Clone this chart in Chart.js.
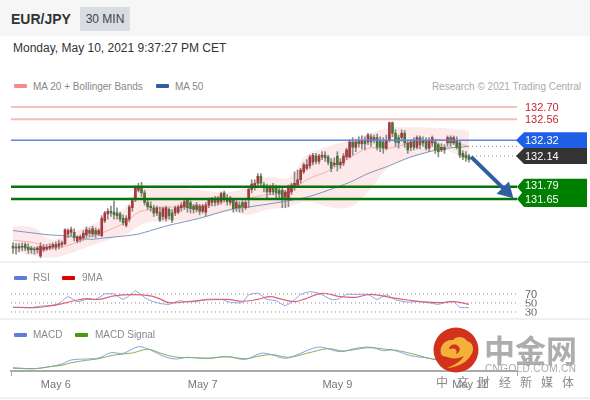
<!DOCTYPE html>
<html lang="en">

<head>
  <meta charset="UTF-8">
  <title>EUR/JPY 30 MIN</title>
  <script src="https://cdn.jsdelivr.net/npm/chart.js"></script>
  <style>
    body {
      margin: 0;
      font-family: 'Liberation Sans', Arial, sans-serif;
      background: #fff;
    }

    #page {
      position: relative;
      width: 590px;
      height: 400px;
      overflow: hidden;
      background: #fff;
    }

    #page>* {
      position: absolute;
    }

    canvas {
      left: 0;
    }

    .header {
      left: 0;
      top: 0;
      width: 590px;
      height: 36px;
      background: #f6f6f6;
    }

    .pair {
      left: 11px;
      top: 11px;
      font-size: 14px;
      font-weight: bold;
      color: #333;
    }

    .badge {
      left: 80px;
      top: 7px;
      width: 50px;
      height: 24px;
      line-height: 24px;
      text-align: center;
      background: #d9dce3;
      font-size: 12px;
      color: #444;
    }

    .date {
      left: 13px;
      top: 41px;
      font-size: 12px;
      color: #333;
    }

    .legend {
      font-size: 10px;
      color: #888;
      white-space: nowrap;
    }

    .swatch {
      width: 13px;
      height: 4px;
      border-radius: 1px;
    }

    .rule {
      left: 0;
      width: 590px;
      height: 2px;
      background: #f0f0f0;
    }

    .mark {
      left: 484px;
      top: 326px;
      font-family: 'Noto Sans CJK SC', sans-serif;
      font-weight: 700;
      font-size: 31px;
      letter-spacing: 0;
      color: #adadad;
      white-space: nowrap;
    }

    .mark-en {
      left: 485px;
      top: 363px;
      font-size: 10px;
      letter-spacing: 0.4px;
      color: #a8a8a8;
      white-space: nowrap;
    }

    .mark-cn {
      left: 436px;
      top: 373px;
      font-family: 'Noto Sans CJK SC', sans-serif;
      font-size: 12px;
      letter-spacing: 9px;
      color: #8a8a8a;
      white-space: nowrap;
    }
  </style>
</head>

<body>
  <div id="page">
    <div class="header"></div>
    <div class="pair">EUR/JPY</div>
    <div class="badge">30 MIN</div>
    <div class="date">Monday, May 10, 2021 9:37:27 PM CET</div>

    <div class="swatch" style="left:14px;top:84px;background:#f58a8a"></div>
    <div class="legend" style="left:33px;top:81px">MA 20 + Bollinger Bands</div>
    <div class="swatch" style="left:156px;top:84px;background:#2f5f9e"></div>
    <div class="legend" style="left:175px;top:81px">MA 50</div>
    <div class="legend" style="right:9px;top:81px;color:#aaa">Research © 2021 Trading Central</div>

    <canvas id="priceChart" width="590" height="192" style="top:70px"></canvas>
    <div class="rule" style="top:261px"></div>
    <canvas id="rsiChart" width="590" height="57" style="top:262px"></canvas>
    <div class="rule" style="top:318px"></div>
    <canvas id="macdChart" width="590" height="78" style="top:319px"></canvas>
    <div class="rule" style="top:397px"></div>

    <div class="swatch" style="left:14px;top:276px;background:#5b7fd6"></div>
    <div class="legend" style="left:33px;top:272px">RSI</div>
    <div class="swatch" style="left:62px;top:276px;background:#e00000"></div>
    <div class="legend" style="left:82px;top:272px">9MA</div>
    <div class="swatch" style="left:14px;top:333px;background:#5b7fd6"></div>
    <div class="legend" style="left:33px;top:329px">MACD</div>
    <div class="swatch" style="left:75px;top:333px;background:#4a9a10"></div>
    <div class="legend" style="left:95px;top:329px">MACD Signal</div>

    <svg style="left:433px;top:327px" width="46" height="46" viewBox="0 0 46 46">
      <circle cx="23" cy="23" r="22.5" fill="#d2321c" />
      <path d="M8 27c-2-8 4-15 12-14 3-4 11-4 14 1 6 1 8 9 4 14-4 7-12 12-24 13 8-3 14-7 17-12-5 3-12 3-17 1-3-1-5-1-6-3z" fill="#f4b13a" />
      <path d="M16 22c0-4 6-6 9-3 3 2 2 7-2 8 1-2 1-4-1-5-2-1-4 0-6 0z" fill="#d2321c" />
    </svg>
    <div class="mark">中金网</div>
    <div class="mark-en">CNGOLD.COM.CN</div>
    <div class="mark-cn">中文财经新媒体</div>
  </div>

  <script>
    // candles
    const opens = [
      131.11, 131.10, 131.11, 131.10, 131.13, 131.10, 131.09, 131.08, 131.07, 131.00,
      131.07, 131.08, 131.09, 131.10, 131.10, 131.11, 131.13, 131.14, 131.25, 131.27,
      131.27, 131.17, 131.19, 131.21, 131.24, 131.29, 131.25, 131.29, 131.25, 131.23,
      131.40, 131.48, 131.51, 131.50, 131.49, 131.48, 131.43, 131.35, 131.42, 131.55,
      131.64, 131.75, 131.78, 131.72, 131.61, 131.57, 131.55, 131.49, 131.50, 131.45,
      131.43, 131.53, 131.49, 131.49, 131.50, 131.55, 131.56, 131.64, 131.61, 131.57,
      131.53, 131.57, 131.51, 131.50, 131.58, 131.61, 131.65, 131.61, 131.62, 131.72,
      131.66, 131.61, 131.64, 131.55, 131.58, 131.61, 131.55, 131.66, 131.76, 131.80,
      131.83, 131.91, 131.81, 131.79, 131.73, 131.80, 131.79, 131.75, 131.75, 131.67,
      131.66, 131.73, 131.78, 131.81, 131.87, 131.96, 132.00, 132.03, 132.07, 132.14,
      132.08, 132.13, 132.15, 132.13, 132.07, 132.04, 132.14, 132.04, 132.06, 132.13,
      132.13, 132.30, 132.24, 132.32, 132.28, 132.31, 132.30, 132.36, 132.32, 132.35,
      132.32, 132.30, 132.23, 132.32, 132.52, 132.40, 132.35, 132.35, 132.40, 132.29,
      132.24, 132.31, 132.24, 132.35, 132.29, 132.32, 132.23, 132.29, 132.30, 132.27,
      132.21, 132.24, 132.29, 132.35, 132.29, 132.32, 132.29, 132.17, 132.15, 132.14
    ];
    const closes = [
      131.09, 131.09, 131.09, 131.11, 131.09, 131.07, 131.07, 131.07, 131.09, 131.11,
      131.10, 131.10, 131.11, 131.13, 131.13, 131.14, 131.15, 131.30, 131.29, 131.30,
      131.21, 131.22, 131.22, 131.26, 131.30, 131.26, 131.31, 131.25, 131.29, 131.43,
      131.49, 131.51, 131.49, 131.47, 131.46, 131.42, 131.38, 131.43, 131.56, 131.63,
      131.78, 131.79, 131.72, 131.61, 131.56, 131.55, 131.49, 131.55, 131.41, 131.54,
      131.55, 131.46, 131.41, 131.55, 131.56, 131.58, 131.62, 131.55, 131.54, 131.53,
      131.58, 131.51, 131.57, 131.58, 131.64, 131.65, 131.61, 131.66, 131.71, 131.65,
      131.62, 131.66, 131.54, 131.61, 131.55, 131.56, 131.61, 131.76, 131.82, 131.83,
      131.91, 131.83, 131.78, 131.73, 131.79, 131.73, 131.72, 131.71, 131.66, 131.73,
      131.78, 131.81, 131.83, 131.87, 131.98, 132.04, 132.04, 132.13, 132.15, 132.08,
      132.14, 132.15, 132.12, 132.07, 132.00, 132.06, 132.04, 132.07, 132.14, 132.21,
      132.30, 132.24, 132.30, 132.28, 132.32, 132.28, 132.38, 132.30, 132.35, 132.24,
      132.24, 132.23, 132.32, 132.52, 132.40, 132.30, 132.29, 132.40, 132.29, 132.21,
      132.30, 132.24, 132.35, 132.27, 132.32, 132.23, 132.32, 132.35, 132.21, 132.19,
      132.24, 132.21, 132.35, 132.29, 132.35, 132.24, 132.15, 132.13, 132.12, 132.10
    ];
    const highs = [
      131.15, 131.14, 131.14, 131.15, 131.15, 131.14, 131.11, 131.10, 131.11, 131.15,
      131.13, 131.13, 131.14, 131.15, 131.16, 131.18, 131.17, 131.31, 131.31, 131.33,
      131.31, 131.23, 131.24, 131.29, 131.33, 131.32, 131.34, 131.32, 131.31, 131.46,
      131.51, 131.54, 131.57, 131.63, 131.55, 131.50, 131.47, 131.46, 131.58, 131.66,
      131.80, 131.83, 131.84, 131.75, 131.65, 131.62, 131.58, 131.57, 131.56, 131.56,
      131.57, 131.55, 131.53, 131.57, 131.58, 131.61, 131.64, 131.66, 131.63, 131.59,
      131.61, 131.59, 131.59, 131.61, 131.66, 131.67, 131.68, 131.68, 131.73, 131.74,
      131.70, 131.68, 131.66, 131.63, 131.62, 131.63, 131.63, 131.79, 131.87, 131.87,
      131.94, 131.94, 131.84, 131.82, 131.81, 131.83, 131.81, 131.80, 131.79, 131.75,
      131.81, 131.83, 131.96, 131.98, 132.00, 132.06, 132.10, 132.15, 132.17, 132.17,
      132.16, 132.19, 132.19, 132.15, 132.11, 132.12, 132.19, 132.11, 132.17, 132.23,
      132.33, 132.35, 132.33, 132.36, 132.37, 132.36, 132.40, 132.39, 132.38, 132.39,
      132.36, 132.35, 132.38, 132.53, 132.53, 132.44, 132.38, 132.44, 132.43, 132.32,
      132.33, 132.35, 132.37, 132.37, 132.36, 132.35, 132.35, 132.37, 132.33, 132.29,
      132.28, 132.27, 132.37, 132.37, 132.37, 132.36, 132.31, 132.20, 132.19, 132.16
    ];
    const lows = [
      131.03, 131.02, 131.05, 131.06, 131.06, 131.03, 131.03, 131.02, 131.03, 130.98,
      131.05, 131.06, 131.07, 131.08, 131.07, 131.08, 131.10, 131.13, 131.21, 131.23,
      131.17, 131.15, 131.16, 131.18, 131.21, 131.22, 131.22, 131.21, 131.23, 131.22,
      131.38, 131.42, 131.45, 131.42, 131.42, 131.39, 131.35, 131.33, 131.39, 131.51,
      131.62, 131.73, 131.68, 131.58, 131.53, 131.51, 131.45, 131.46, 131.39, 131.41,
      131.40, 131.42, 131.38, 131.46, 131.48, 131.51, 131.53, 131.50, 131.49, 131.49,
      131.50, 131.47, 131.49, 131.45, 131.55, 131.57, 131.57, 131.58, 131.59, 131.62,
      131.58, 131.58, 131.50, 131.51, 131.50, 131.50, 131.53, 131.55, 131.72, 131.75,
      131.80, 131.79, 131.73, 131.66, 131.70, 131.70, 131.66, 131.66, 131.55, 131.55,
      131.56, 131.70, 131.75, 131.78, 131.83, 131.94, 131.98, 132.00, 132.04, 132.05,
      132.05, 132.10, 132.08, 132.04, 131.96, 132.02, 131.97, 132.00, 132.03, 132.10,
      132.12, 132.15, 132.19, 132.24, 132.22, 132.21, 132.27, 132.25, 132.29, 132.21,
      132.19, 132.17, 132.21, 132.30, 132.36, 132.25, 132.23, 132.31, 132.24, 132.17,
      132.20, 132.21, 132.22, 132.22, 132.25, 132.21, 132.19, 132.25, 132.17, 132.13,
      132.19, 132.17, 132.25, 132.25, 132.27, 132.22, 132.12, 132.10, 132.08, 132.07
    ];

    // moving averages and bands, taken at these candle numbers
    const bandX = [0, 7, 12, 17, 25, 31, 37, 41, 45, 51, 61, 71, 77, 83, 90, 96, 103, 110, 116, 123, 130, 140, 149];
    const bandUpper = [131.34, 131.32, 131.19, 131.23, 131.35, 131.43, 131.57, 131.79, 131.80, 131.79, 131.75, 131.73, 131.80, 131.90, 131.89, 132.15, 132.25, 132.32, 132.39, 132.46, 132.47, 132.46, 132.43];
    const bandLower = [131.05, 131.00, 130.98, 131.01, 131.11, 131.18, 131.25, 131.34, 131.39, 131.39, 131.43, 131.51, 131.47, 131.53, 131.56, 131.62, 131.56, 131.56, 131.73, 132.02, 132.12, 132.21, 132.10];
    const ma20 = [131.18, 131.15, 131.09, 131.11, 131.21, 131.29, 131.39, 131.50, 131.53, 131.56, 131.55, 131.63, 131.66, 131.70, 131.72, 131.87, 131.97, 132.12, 132.23, 132.23, 132.29, 132.33, 132.25];
    const ma50 = [131.29, 131.26, 131.24, 131.23, 131.19, 131.21, 131.23, 131.25, 131.29, 131.35, 131.43, 131.53, 131.56, 131.59, 131.63, 131.67, 131.75, 131.84, 131.94, 132.03, 132.13, 132.22, 132.25];

    const levelsRed = [132.70, 132.56];
    const levelBlue = 132.32;
    const levelsGreen = [131.79, 131.65];
    const lastClose = 132.14;
    const dottedEnd = 132.25;
    const arrowX = [149.7, 161.2];
    const arrowY = [132.13, 131.74];

    const rsiX = [0, 3, 6, 9, 12, 15, 18, 21, 24, 27, 30, 33, 36, 39, 40, 44, 48, 51, 54, 57, 60, 63, 68, 71, 75, 77, 80, 83, 86, 89, 92, 94, 97, 100, 104, 106, 109, 112, 116, 119, 122, 125, 129, 132, 135, 139, 142, 144, 146, 149];
    const rsi = [40.5, 40.5, 39.7, 43, 44, 49, 64, 53, 58, 58, 70, 70, 58, 71.5, 77, 58, 49, 47, 54.5, 53, 53, 58, 58, 51.5, 51, 68, 71.5, 58, 55, 44, 57, 69, 75, 71.5, 58, 58, 69, 69, 69, 58, 68, 57, 52, 53, 51.5, 47, 53, 53, 40.5, 39.7];
    const ma9X = [0, 7, 12, 15, 20, 24, 28, 33, 39, 45, 48, 51, 57, 63, 70, 75, 80, 84, 88, 92, 95, 101, 107, 112, 117, 123, 129, 134, 140, 144, 149];
    const ma9 = [40.5, 39.7, 43.4, 47, 55, 59.7, 58, 65.6, 68.6, 65.6, 59, 50.8, 53, 56.7, 58, 53.8, 58, 64, 58, 53, 58, 71.5, 64, 62.6, 69.3, 62.6, 56.7, 52.3, 50.8, 53, 47];
    const rsiLevels = [70, 50, 30];

    const macdX = [0, 7, 12, 16, 19, 24, 28, 32, 36, 41, 45, 49, 53, 57, 63, 70, 76, 81, 84, 89, 94, 98, 101, 107, 112, 117, 121, 124, 130, 136, 149];
    const macd = [-0.063, -0.067, -0.047, -0.02, 0.02, 0.03, 0.04, 0.093, 0.087, 0.153, 0.12, 0.06, 0.03, 0.047, 0.037, 0.053, 0.027, 0.087, 0.077, 0.037, 0.087, 0.137, 0.147, 0.103, 0.137, 0.147, 0.113, 0.12, 0.063, 0.037, -0.047];
    const signalX = [0, 7, 12, 16, 19, 24, 28, 33, 39, 44, 49, 53, 59, 64, 70, 76, 81, 85, 90, 96, 103, 108, 116, 122, 126, 132, 137, 149];
    const signal = [-0.057, -0.067, -0.047, -0.033, -0.007, 0.017, 0.033, 0.07, 0.09, 0.127, 0.08, 0.05, 0.043, 0.037, 0.053, 0.033, 0.063, 0.073, 0.047, 0.087, 0.133, 0.11, 0.143, 0.127, 0.113, 0.07, 0.03, -0.02];

    const dayTicks = [14, 62, 106, 149.3];
    const dayLabels = ['May 6', 'May 7', 'May 9', 'May 11'];

    // x range shared by the three panels
    const xMin = -0.65;
    const xMax = 164.7;
    const padding = { left: 11, right: 73, top: 0, bottom: 0 };

    const pairs = (xs, ys) => xs.map((x, i) => ({ x, y: ys[i] }));
    const flat = (v, from = xMin, to = xMax) => [{ x: from, y: v }, { x: to, y: v }];

    function levelLine(v, color, width, order) {
      return { type: 'line', data: flat(v), borderColor: color, borderWidth: width, pointRadius: 0, order };
    }

    function curve(xs, ys, color, width, order, extra) {
      return {
        type: 'line', data: pairs(xs, ys), borderColor: color, borderWidth: width,
        pointRadius: 0, tension: 0.3, order, ...extra
      };
    }

    function dotted(v, from, to, order) {
      return {
        type: 'line', data: flat(v, from, to), borderColor: '#8a8a8a', borderWidth: 1,
        borderDash: [1, 3], pointRadius: 0, order
      };
    }

    function baseOptions(yMin, yMax) {
      return {
        responsive: false,
        animation: false,
        devicePixelRatio: 1,
        layout: { padding, autoPadding: false },
        plugins: { legend: { display: false }, tooltip: { enabled: false } },
        scales: {
          x: { type: 'linear', min: xMin, max: xMax, offset: false, display: false },
          y: { min: yMin, max: yMax, display: false }
        }
      };
    }

    function tag(ctx, y, color, text) {
      ctx.fillStyle = color;
      ctx.beginPath();
      ctx.moveTo(516, y);
      ctx.lineTo(524, y - 8);
      ctx.lineTo(587, y - 8);
      ctx.lineTo(587, y + 8);
      ctx.lineTo(524, y + 8);
      ctx.closePath();
      ctx.fill();
      ctx.fillStyle = '#fff';
      ctx.fillText(text, 525, y + 0.5);
    }

    const priceTags = {
      id: 'priceTags',
      afterDraw(chart) {
        const { ctx, scales } = chart;
        const py = v => scales.y.getPixelForValue(v);
        ctx.save();
        ctx.font = '11px "Liberation Sans"';
        ctx.textBaseline = 'middle';
        ctx.textAlign = 'left';
        ctx.fillStyle = '#c4262e';
        levelsRed.forEach(v => ctx.fillText(v.toFixed(2), 525, py(v) + 0.5));
        tag(ctx, py(levelBlue), '#1f5fe6', levelBlue.toFixed(2));
        tag(ctx, py(lastClose), '#333333', lastClose.toFixed(2));

        const top = py(levelsGreen[0]);
        const bottom = py(levelsGreen[1]);
        ctx.fillStyle = '#008000';
        ctx.beginPath();
        ctx.moveTo(517, top);
        ctx.lineTo(524, top - 8);
        ctx.lineTo(587, top - 8);
        ctx.lineTo(587, bottom + 8);
        ctx.lineTo(524, bottom + 8);
        ctx.lineTo(517, bottom);
        ctx.lineTo(522, (top + bottom) / 2);
        ctx.closePath();
        ctx.fill();
        ctx.fillStyle = '#fff';
        ctx.fillText(levelsGreen[0].toFixed(2), 525, top - 0.5);
        ctx.fillText(levelsGreen[1].toFixed(2), 525, bottom + 0.5);
        ctx.restore();
      }
    };

    const rsiLabels = {
      id: 'rsiLabels',
      afterDraw(chart) {
        const { ctx, scales } = chart;
        ctx.save();
        ctx.font = '11px "Liberation Sans"';
        ctx.textBaseline = 'middle';
        ctx.fillStyle = '#666';
        rsiLevels.forEach((v, i) => {
          const y = scales.y.getPixelForValue(v);
          ctx.save();
          // the lower two labels are cut short in the original
          if (i > 0) {
            ctx.beginPath();
            ctx.rect(520, y - 3.5, 30, 7);
            ctx.clip();
          }
          ctx.fillText(String(v), 525, y + 0.5);
          ctx.restore();
        });
        ctx.restore();
      }
    };

    const macdZero = {
      id: 'macdZero',
      afterDraw(chart) {
        const { ctx, scales } = chart;
        ctx.save();
        ctx.font = '11px "Liberation Sans"';
        ctx.textBaseline = 'middle';
        ctx.fillStyle = '#666';
        ctx.fillText('0', 525, scales.y.getPixelForValue(0) + 0.5);
        ctx.restore();
      }
    };

    const candleX = closes.map((c, i) => i);
    const bodyColors = closes.map((c, i) => (c >= opens[i] ? '#a8383c' : '#4f7339'));

    const priceOptions = baseOptions(130.931, 133.122);
    new Chart(document.getElementById('priceChart'), {
      type: 'bar',
      data: {
        datasets: [
          curve(bandX, bandUpper, 'transparent', 0, 6, { fill: 1, backgroundColor: 'rgba(250, 190, 190, 0.34)', tension: 0.4 }),
          curve(bandX, bandLower, 'transparent', 0, 6, { tension: 0.4 }),
          curve(bandX, ma50, '#7d94c0', 1, 5),
          curve(bandX, ma20, '#f4b0ac', 1, 5),
          {
            type: 'bar', data: candleX.map(i => ({ x: i, y: [lows[i], highs[i]] })),
            backgroundColor: '#8a8a8a', barThickness: 1, grouped: false, order: 4
          },
          {
            type: 'bar', data: candleX.map(i => ({ x: i, y: [opens[i], closes[i]] })),
            backgroundColor: bodyColors, barThickness: 2, grouped: false, order: 3
          },
          dotted(dottedEnd, 150, xMax, 2),
          dotted(lastClose, 150, xMax, 2),
          levelLine(levelsRed[0], '#f2aaa4', 1.5, 2),
          levelLine(levelsRed[1], '#f4bdb8', 2, 2),
          levelLine(levelBlue, '#5f88dc', 1.5, 2),
          levelLine(levelsGreen[0], '#0a720a', 2.5, 2),
          levelLine(levelsGreen[1], '#0a720a', 2.5, 2),
          {
            type: 'line', data: pairs(arrowX, arrowY), borderColor: '#2f5f9e', borderWidth: 4,
            backgroundColor: '#2f5f9e', pointRadius: [0, 10], pointStyle: 'triangle', pointRotation: 135,
            pointBorderWidth: 0, order: 0
          }
        ]
      },
      options: priceOptions,
      plugins: [priceTags]
    });

    new Chart(document.getElementById('rsiChart'), {
      type: 'line',
      data: {
        datasets: [
          ...rsiLevels.map(v => dotted(v, xMin, xMax, 3)),
          curve(rsiX, rsi, '#8ca3e2', 1, 2, { tension: 0.2 }),
          curve(ma9X, ma9, '#dc6377', 1.2, 1, { tension: 0.4 })
        ]
      },
      options: baseOptions(14.4, 141.1),
      plugins: [rsiLabels]
    });

    const macdOptions = baseOptions(-0.09, 0.43);
    macdOptions.scales.x = {
      type: 'linear',
      min: xMin,
      max: xMax,
      offset: false,
      border: { color: '#aaaaaa', width: 2 },
      grid: {
        drawOnChartArea: false,
        tickLength: 5,
        color: ctx => (ctx.tick && ctx.tick.label ? 'transparent' : '#aaaaaa')
      },
      ticks: {
        autoSkip: false,
        maxRotation: 0,
        padding: 2,
        color: '#777',
        font: { family: 'Liberation Sans', size: 11 },
        callback: v => {
          const i = dayTicks.indexOf(v);
          return i >= 0 ? dayLabels[i] : '';
        }
      },
      afterBuildTicks: scale => {
        scale.ticks = [xMin, ...dayTicks, xMax].map(value => ({ value }));
      },
      afterFit: scale => {
        scale.height = 26;
      }
    };
    new Chart(document.getElementById('macdChart'), {
      type: 'line',
      data: {
        datasets: [
          curve(macdX, macd, '#8aa2e0', 1, 2, { tension: 0.35 }),
          curve(signalX, signal, '#7fb060', 1, 1, { tension: 0.35 })
        ]
      },
      options: macdOptions,
      plugins: [macdZero]
    });
  </script>
</body>

</html>
